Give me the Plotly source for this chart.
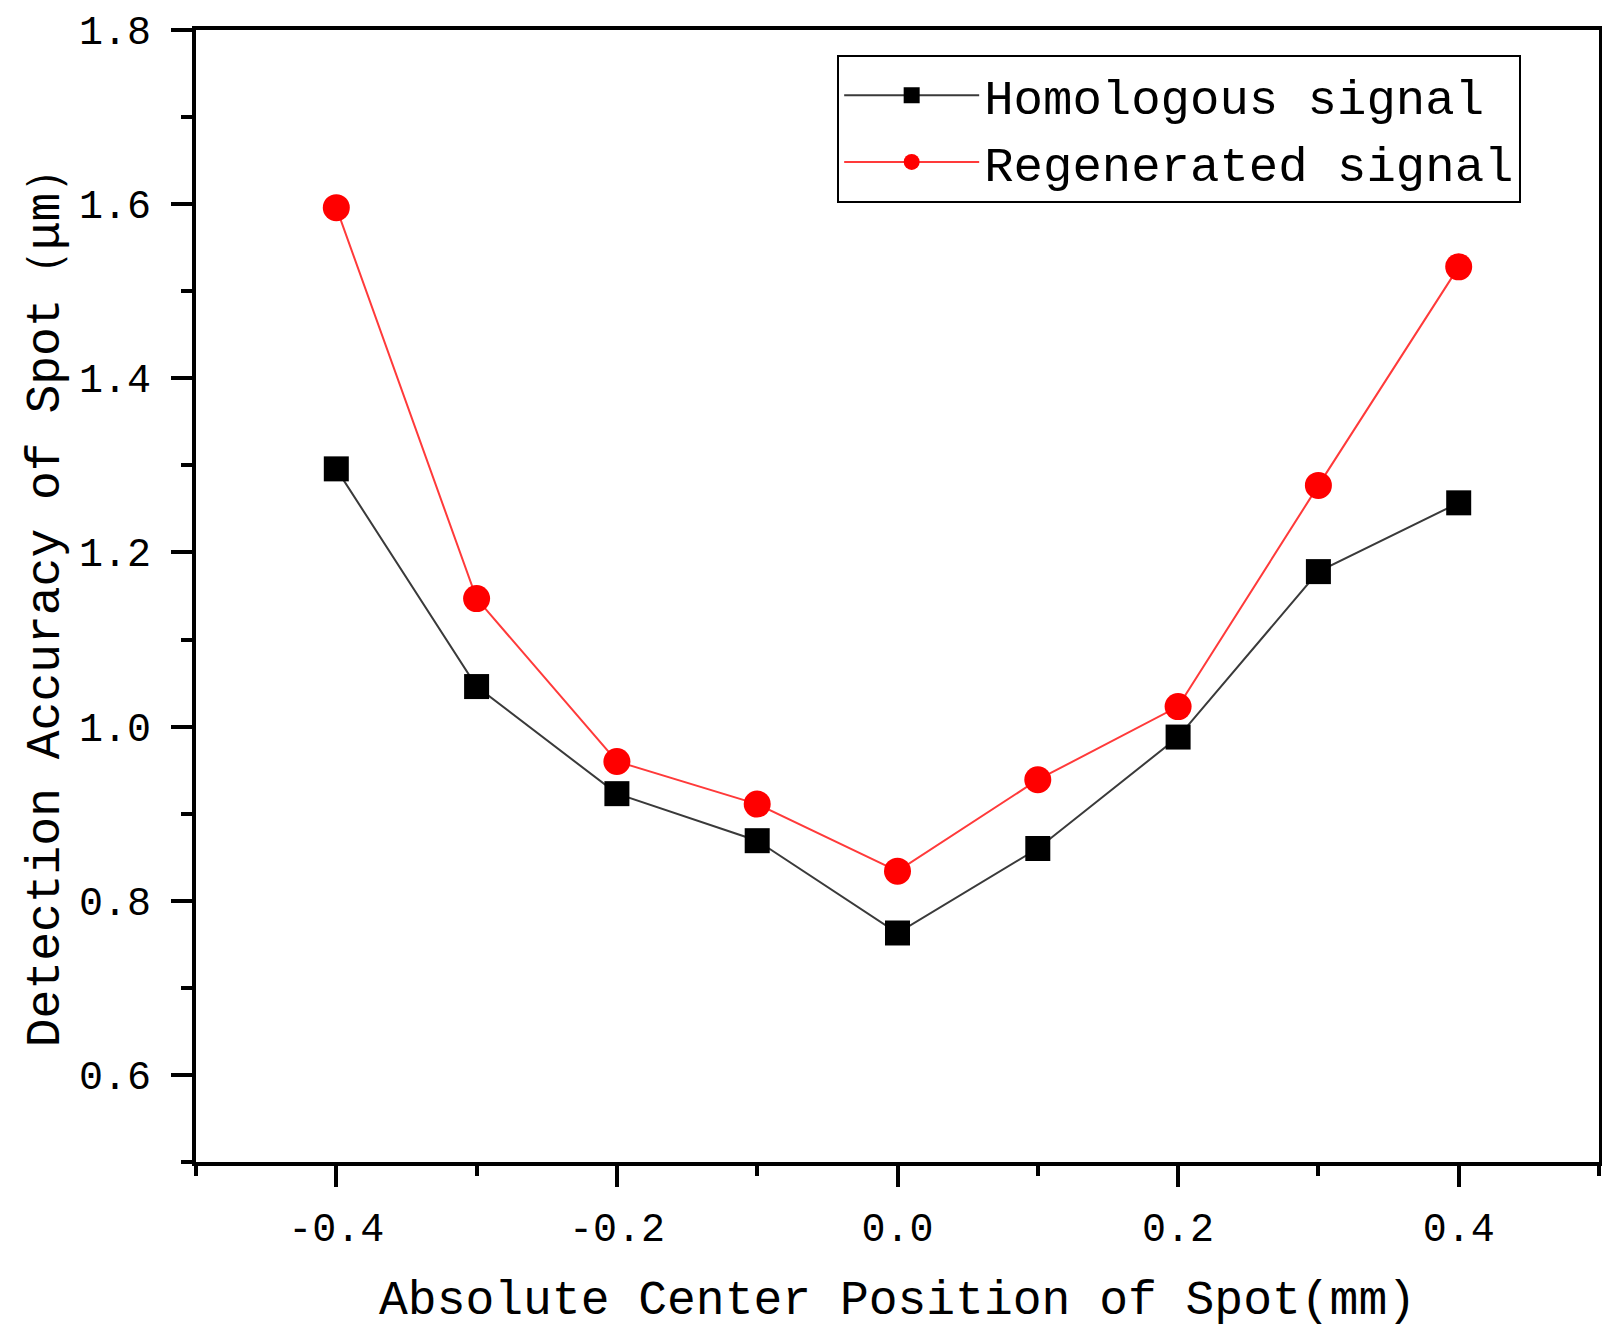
import plotly.graph_objects as go

# absolute centre position of spot (mm)
position = [-0.4, -0.3, -0.2, -0.1, 0.0, 0.1, 0.2, 0.3, 0.4]

# detection accuracy (um)
homologous = [1.296, 1.046, 0.923, 0.869, 0.763, 0.860, 0.988, 1.178, 1.257]
regenerated = [1.596, 1.147, 0.960, 0.911, 0.834, 0.939, 1.023, 1.277, 1.528]

x_ticks = [-0.4, -0.2, 0.0, 0.2, 0.4]
x_tick_labels = ["-0.4", "-0.2", "0.0", "0.2", "0.4"]
y_ticks = [0.6, 0.8, 1.0, 1.2, 1.4, 1.6, 1.8]
y_tick_labels = ["0.6", "0.8", "1.0", "1.2", "1.4", "1.6", "1.8"]

font = "Liberation Mono"

fig = go.Figure()
fig.add_trace(go.Scatter(x=position, y=homologous, mode="lines+markers",
                         name="Homologous signal",
                         line=dict(color="#3a3a3a", width=2),
                         marker=dict(symbol="square", size=25, color="black")))
fig.add_trace(go.Scatter(x=position, y=regenerated, mode="lines+markers",
                         name="Regenerated signal",
                         line=dict(color="#ff3a3a", width=2),
                         marker=dict(symbol="circle", size=27, color="#ff0000")))

axis_common = dict(showgrid=False, zeroline=False, showline=True, linecolor="black",
                   linewidth=4, mirror=True, ticks="outside", tickcolor="black",
                   tickwidth=4, ticklen=21, automargin=False,
                   tickfont=dict(family=font, size=40, color="black"))

fig.update_layout(
    width=1610, height=1336,
    plot_bgcolor="white", paper_bgcolor="white",
    margin=dict(l=188, r=19, t=22, b=182),
    showlegend=True,
    legend=dict(x=0.457, y=0.978, xanchor="left", yanchor="top",
                bordercolor="black", borderwidth=2, bgcolor="white",
                font=dict(family=font, size=49, color="black"),
                itemwidth=135),
    xaxis=dict(range=[-0.5, 0.5], tickvals=x_ticks, ticktext=x_tick_labels,
               minor=dict(dtick=0.1, tick0=-0.5, ticks="outside", ticklen=10,
                          tickwidth=4, tickcolor="black"),
               ticklabelstandoff=6,
               title=dict(text="Absolute Center Position of Spot(mm)",
                          font=dict(family=font, size=48, color="black"), standoff=29),
               **axis_common),
    yaxis=dict(range=[0.5, 1.8], tickvals=y_ticks, ticktext=y_tick_labels,
               minor=dict(dtick=0.1, tick0=0.5, ticks="outside", ticklen=11,
                          tickwidth=4, tickcolor="black"),
               ticklabelstandoff=12,
               title=dict(text="Detection Accuracy of Spot（μm）",
                          font=dict(family=font, size=48, color="black"), standoff=5),
               **axis_common),
)

fig.write_html("out.html")
